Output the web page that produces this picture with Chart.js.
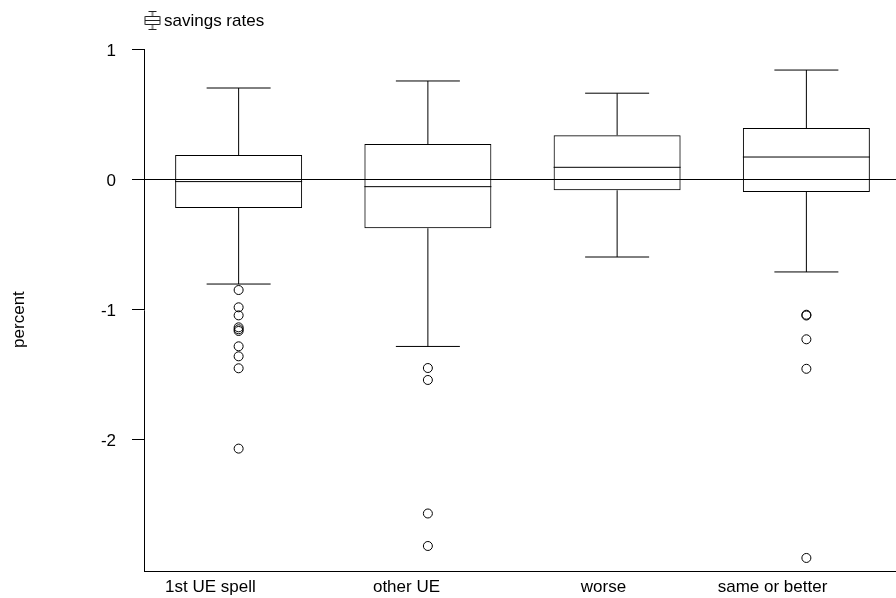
<!DOCTYPE html>
<html>
<head>
<meta charset="utf-8">
<title>savings rates</title>
<script src="https://cdn.jsdelivr.net/npm/chart.js@4"></script>
<style>
  html, body { margin: 0; padding: 0; background: #fff; overflow: hidden; }
  #wrap { width: 896px; height: 598px; overflow: hidden; }
  canvas { display: block; }
</style>
</head>
<body>
<div id="wrap"><canvas id="boxChart" width="901" height="598"></canvas></div>
<script>
const categories = ["1st UE spell", "other UE", "worse", "same or better"];
const yTicks = [1, 0, -1, -2];
// the labels sit left of their boxes in the original, by uneven amounts
const labelAt = [-0.149, 0.887, 1.928, 2.821];

// box stats
const q1 = [-0.223, -0.379, -0.087, -0.100];
const q3 = [0.185, 0.269, 0.336, 0.392];
const medians = [-0.020, -0.059, 0.090, 0.169];
const whiskerLow = [-0.808, -1.288, -0.600, -0.715];
const whiskerHigh = [0.700, 0.754, 0.660, 0.838];

const outliers1 = [-0.854, -0.987, -1.049, -1.141, -1.156, -1.169, -1.287, -1.364, -1.456, -2.074];
const outliers2 = [-1.454, -1.546, -2.573, -2.823];
const outliers3 = [];
const outliers4 = [-1.044, -1.050, -1.233, -1.460, -2.915];

const outlierPoints = [outliers1, outliers2, outliers3, outliers4].flatMap((vals, i) =>
  vals.map(v => ({ x: categories[i], y: v }))
);

const FONT = { family: "'Liberation Sans', Arial, sans-serif", size: 17 };

function pair(a, b) {
  return a.map((v, i) => [v, b[i]]);
}

function tickLine(label, data, radius) {
  return {
    type: "line",
    label: label,
    data: data,
    showLine: false,
    pointStyle: "line",
    pointRadius: radius,
    pointHoverRadius: radius,
    pointBorderColor: "#000",
    pointBorderWidth: 1
  };
}

function whisker(label, data) {
  return {
    type: "bar",
    label: label,
    data: data,
    grouped: false,
    barThickness: 1,
    inflateAmount: 0,
    backgroundColor: "#000",
    borderWidth: 0
  };
}

// small box-plot glyph for the legend
function legendIcon() {
  const c = document.createElement("canvas");
  c.width = 18;
  c.height = 21;
  const g = c.getContext("2d");
  g.strokeStyle = "#222";
  g.lineWidth = 1;
  g.beginPath();
  g.moveTo(5, 0.5); g.lineTo(13, 0.5);
  g.moveTo(9, 0.5); g.lineTo(9, 5);
  g.rect(1.5, 5.5, 15, 8);
  g.moveTo(1.5, 9.5); g.lineTo(16.5, 9.5);
  g.moveTo(9, 14); g.lineTo(9, 18.5);
  g.moveTo(5, 18.5); g.lineTo(13, 18.5);
  g.stroke();
  return c;
}

const icon = legendIcon();

// legend sits at the plot's left edge, y label is off-centre in the original
const placeLabels = {
  id: "placeLabels",
  afterLayout(chart) {
    chart.legend.left = chart.chartArea.left;
    chart.legend.top = 7.5;
  },
  afterDraw(chart) {
    const ctx = chart.ctx;
    ctx.save();
    ctx.translate(19, chart.scales.y.getPixelForValue(-1.081));
    ctx.rotate(-Math.PI / 2);
    ctx.font = "17px " + FONT.family;
    ctx.fillStyle = "#000";
    ctx.textAlign = "center";
    ctx.textBaseline = "middle";
    ctx.fillText("percent", 0, 0);
    ctx.restore();
  }
};

new Chart(document.getElementById("boxChart"), {
  data: {
    labels: categories,
    datasets: [
      {
        type: "bar",
        label: "savings rates",
        data: pair(q1, q3),
        grouped: false,
        barThickness: 127,
        inflateAmount: 0,
        backgroundColor: "rgba(0,0,0,0)",
        borderColor: "#000",
        borderWidth: 1,
        borderSkipped: false
      },
      whisker("upper whisker", pair(q3, whiskerHigh)),
      whisker("lower whisker", pair(whiskerLow, q1)),
      tickLine("median", medians, 63.5),
      tickLine("upper cap", whiskerHigh, 32),
      tickLine("lower cap", whiskerLow, 32),
      {
        type: "line",
        label: "outliers",
        data: outlierPoints,
        showLine: false,
        pointStyle: "circle",
        pointRadius: 4.5,
        pointBackgroundColor: "rgba(0,0,0,0)",
        pointBorderColor: "#000",
        pointBorderWidth: 1
      }
    ]
  },
  options: {
    responsive: false,
    animation: false,
    layout: { autoPadding: false, padding: { top: 16.5, left: 0, right: 0, bottom: 0 } },
    scales: {
      x: {
        type: "category",
        offset: true,
        grid: { display: false },
        border: { display: true, color: "#000", width: 1 },
        ticks: { display: false },
        afterFit: s => { s.height = 0; }
      },
      // carries only the text under the axis
      xLabels: {
        type: "linear",
        position: "bottom",
        min: -0.5,
        max: 3.5,
        afterBuildTicks: s => { s.ticks = labelAt.map(v => ({ value: v })); },
        afterFit: s => { s.height = 26; },
        grid: { display: false, drawTicks: false },
        border: { display: false },
        ticks: {
          color: "#000",
          font: FONT,
          padding: 5,
          autoSkip: false,
          maxRotation: 0,
          callback: (v, i) => categories[i]
        }
      },
      y: {
        min: -3.0215,
        max: 1,
        afterBuildTicks: s => { s.ticks = yTicks.map(v => ({ value: v })); },
        afterFit: s => { s.width = 144; },
        grid: {
          color: c => (c.tick && c.tick.value === 0 ? "#000" : "rgba(0,0,0,0)"),
          tickColor: "#000",
          tickLength: 12,
          lineWidth: 1
        },
        border: { display: true, color: "#000", width: 1 },
        ticks: { color: "#000", font: FONT, padding: 16, labelOffset: 2 }
      }
    },
    plugins: {
      tooltip: { enabled: false },
      legend: {
        display: true,
        position: "top",
        align: "start",
        fullSize: false,
        labels: {
          font: FONT,
          color: "#000",
          padding: 5.5,
          boxWidth: 6,
          usePointStyle: true,
          generateLabels: () => [{
            text: "savings rates",
            pointStyle: icon,
            fontColor: "#000",
            lineWidth: 0,
            strokeStyle: "rgba(0,0,0,0)",
            fillStyle: "rgba(0,0,0,0)"
          }]
        }
      }
    }
  },
  plugins: [placeLabels]
});
</script>
</body>
</html>
